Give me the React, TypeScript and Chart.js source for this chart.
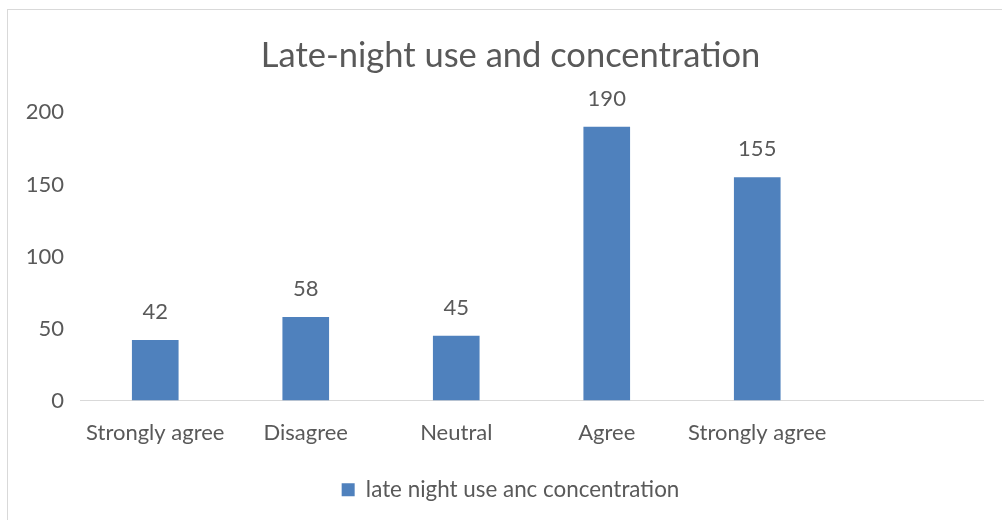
import React, { useEffect, useRef } from "react";
import { Chart, registerables } from "chart.js";

Chart.register(...registerables);

const titleText = "Late-night use and concentration";
const categories = ["Strongly agree", "Disagree", "Neutral", "Agree", "Strongly agree", ""];
const seriesName = "late night use anc concentration";
const seriesValues: (number | null)[] = [42, 58, 45, 190, 155, null];
const yTicks = [0, 50, 100, 150, 200];

const FONT = "Lato, 'Open Sans', sans-serif";
const TEXT = "#595959";
const BAR = "#4f81bd";
const CENTER_SHIFT = 14;

const valueLabels = {
  id: "valueLabels",
  afterDatasetsDraw(chart: any) {
    const ctx = chart.ctx;
    const meta = chart.getDatasetMeta(0);
    ctx.save();
    ctx.font = `22px ${FONT}`;
    ctx.fillStyle = TEXT;
    ctx.textAlign = "center";
    ctx.textBaseline = "middle";
    meta.data.forEach((el: any, i: number) => {
      const v = seriesValues[i];
      if (v == null) return;
      ctx.fillText(String(v), el.x, el.y - 28);
    });
    ctx.restore();
  },
};

const shiftBlocks = {
  id: "shiftBlocks",
  afterLayout(chart: any) {
    [chart.titleBlock, chart.legend].forEach((b: any) => {
      if (!b) return;
      b.left += CENTER_SHIFT;
      b.right += CENTER_SHIFT;
      if (b.legendHitBoxes) b.legendHitBoxes.forEach((h: any) => (h.left += CENTER_SHIFT));
    });
  },
};

export default function App() {
  const ref = useRef<HTMLCanvasElement>(null);
  useEffect(() => {
    document.body.style.margin = "0";
    const chart = new Chart(ref.current!, {
      type: "bar",
      data: {
        labels: categories,
        datasets: [
          {
            label: seriesName,
            data: seriesValues,
            backgroundColor: BAR,
            barPercentage: 0.62,
            categoryPercentage: 0.5,
          },
        ],
      },
      options: {
        animation: false,
        responsive: false,
        layout: { padding: { left: 10, right: 19, top: 20, bottom: 9 } },
        plugins: {
          title: {
            display: true,
            text: titleText,
            color: TEXT,
            font: { family: FONT, size: 34.5, weight: "normal" },
            padding: { top: 15, bottom: 36 },
          },
          legend: {
            position: "bottom",
            labels: {
              color: TEXT,
              font: { family: FONT, size: 22.4 },
              boxWidth: 13,
              boxHeight: 13,
              padding: 10,
            },
          },
          tooltip: { enabled: false },
        },
        scales: {
          x: {
            grid: { display: false },
            border: { display: true, color: "#d9d9d9", width: 1 },
            ticks: { color: TEXT, font: { family: FONT, size: 22 }, padding: 11, maxRotation: 0 },
            afterFit: (scale: any) => {
              scale.height = 68;
            },
          },
          y: {
            min: 0,
            max: 200,
            afterBuildTicks: (scale: any) => {
              scale.ticks = yTicks.map((v) => ({ value: v }));
            },
            grid: { display: false },
            border: { display: false },
            ticks: { color: TEXT, font: { family: FONT, size: 22 }, padding: 8 },
            afterFit: (scale: any) => {
              scale.width = 70;
            },
          },
        },
      },
      plugins: [valueLabels, shiftBlocks],
    });
    return () => chart.destroy();
  }, []);
  return (
    <div style={{ position: "relative", width: 1002, height: 520, overflow: "hidden", background: "#fff" }}>
      <div
        style={{
          position: "absolute",
          left: 7,
          top: 9,
          width: 1100,
          height: 700,
          border: "1px solid #d9d9d9",
          boxSizing: "border-box",
        }}
      />
      <canvas ref={ref} width={1002} height={520} style={{ position: "absolute", left: 0, top: 0, display: "block" }} />
    </div>
  );
}
